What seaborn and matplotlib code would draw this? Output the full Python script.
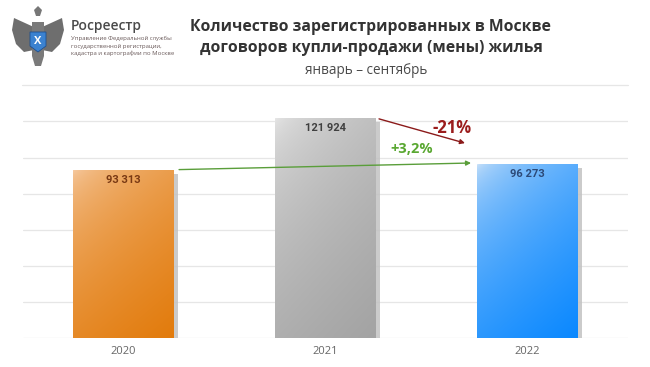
import numpy as np
import pandas as pd
import matplotlib
matplotlib.use("Agg")
import matplotlib.pyplot as plt
import matplotlib.colors as mcolors
from matplotlib.patches import Rectangle, Polygon
import seaborn as sns

# ---- data ----
years = ["2020", "2021", "2022"]
values = [93313, 121924, 96273]
value_labels = ["93 313", "121 924", "96 273"]
change_labels = ["+3,2%", "-21%"]
title_lines = ["Количество зарегистрированных в Москве",
               "договоров купли-продажи (мены) жилья"]
subtitle = "январь – сентябрь"
org_name = "Росреестр"
org_lines = ["Управление Федеральной службы",
             "государственной регистрации,",
             "кадастра и картографии по Москве"]

light_cols = ["#f8d2b0", "#ececec", "#d6e7f8"]
dark_cols = ["#e27b0c", "#a3a3a3", "#0a88ff"]
label_cols = ["#7a3a14", "#404040", "#2c4a78"]

sns.set_theme(style="white")
plt.rcParams['font.family'] = ['Open Sans', 'DejaVu Sans']

fig = plt.figure(figsize=(6.5, 3.67), dpi=100)
fig.patch.set_facecolor("white")
ax = fig.add_axes([22.7 / 650, 29 / 367, (628 - 22.7) / 650, (338 - 103.4) / 367])

df = pd.DataFrame({"year": years, "value": values})
sns.barplot(data=df, x="year", y="value", ax=ax, width=0.5,
            color="#ffffff", edgecolor="none", zorder=3)

ax.set_xlim(-0.5, 2.5)
ax.set_ylim(0, 130000)
ax.set_yticks(np.arange(0, 120001, 20000))
ax.yaxis.grid(True, color="#e6e6e6", linewidth=0.9, zorder=0)
ax.set_axisbelow(True)
for s in ax.spines.values():
    s.set_visible(False)
ax.set_yticklabels([])
ax.tick_params(axis="y", length=0)
ax.tick_params(axis="x", length=0, pad=6, labelsize=8, labelcolor="#666666")
ax.set_xlabel("")
ax.set_ylabel("")

# gradient fills + shadows
ny, nx = 200, 100
uu, vv = np.meshgrid(np.linspace(0, 1, nx), np.linspace(0, 1, ny))
for i, patch in enumerate(ax.patches):
    x0 = patch.get_x()
    w = patch.get_width()
    h = patch.get_height()
    sh = Rectangle((x0 + w, 0), 0.022, h - 2200, facecolor="#c2c2c2",
                   edgecolor="none", zorder=2, alpha=0.85)
    ax.add_patch(sh)
    t = np.clip((0.45 * uu + 0.9 * vv) / 1.35, 0, 1) ** 0.45
    c0 = np.array(mcolors.to_rgb(light_cols[i]))
    c1 = np.array(mcolors.to_rgb(dark_cols[i]))
    img = c0[None, None, :] + (c1 - c0)[None, None, :] * t[:, :, None]
    im = ax.imshow(img, extent=(x0, x0 + w, 0, h), origin="upper",
                   aspect="auto", zorder=4, interpolation="bilinear")
    im.set_clip_path(patch)
    ax.text(i, h - 5600, value_labels[i],
            ha="center", va="center", fontsize=8, fontweight="bold",
            color=label_cols[i], zorder=6, family=["Roboto", "DejaVu Sans"])

ax.set_xlim(-0.5, 2.5)
ax.set_ylim(0, 130000)

# arrows
ax.annotate("", xy=(1.722, values[2] + 700), xytext=(0.275, values[0]),
            arrowprops=dict(arrowstyle="-|>", color="#5a9e3a", lw=1.0,
                            mutation_scale=7, shrinkA=0, shrinkB=0), zorder=7)
ax.annotate("", xy=(1.692, 108000), xytext=(1.266, values[1] - 500),
            arrowprops=dict(arrowstyle="-|>", color="#8b1a1a", lw=1.0,
                            mutation_scale=7, shrinkA=0, shrinkB=0), zorder=7)
ax.text(1.43, 104700, change_labels[0], ha="center", va="center",
        fontsize=10.5, fontweight="bold", color="#5aa832", zorder=7)
ax.text(1.628, 116400, change_labels[1], ha="center", va="center",
        fontsize=12, fontweight="bold", color="#9b1c1c", zorder=7)

# header
fig.text(370 / 650, 1 - 27 / 367, title_lines[0], ha="center", va="center",
         fontsize=11.3, fontweight="bold", color="#333333")
fig.text(371 / 650, 1 - 48 / 367, title_lines[1], ha="center", va="center",
         fontsize=11.3, fontweight="bold", color="#333333")
fig.text(366 / 650, 1 - 70 / 367, subtitle, ha="center", va="center",
         fontsize=9.8, color="#4a4a4a")
fig.add_artist(plt.Line2D([22 / 650, 628 / 650], [1 - 85 / 367, 1 - 85 / 367],
                          color="#e6e6e6", lw=0.9))

fig.text(71 / 650, 1 - 26 / 367, org_name, ha="left", va="center",
         fontsize=10, fontweight="semibold", color="#4a4a4a")
for k, line in enumerate(org_lines):
    fig.text(71 / 650, 1 - (38.7 + 7.3 * k) / 367, line, ha="left", va="center",
             fontsize=4.35, color="#6a5a5a")

# simplified emblem
def fx(px):
    return px / 650

def fy(py):
    return 1 - py / 367

wing_l = [(36, 28), (14, 18), (12, 30), (16, 44), (24, 52), (34, 50)]
wing_r = [(76 - x, y) for x, y in wing_l]
for wing in (wing_l, wing_r):
    fig.add_artist(Polygon([(fx(x), fy(y)) for x, y in wing], closed=True,
                           facecolor="#6e6e6e", edgecolor="none",
                           transform=fig.transFigure))
body = [(32, 22), (44, 22), (44, 56), (41, 66), (35, 66), (32, 56)]
fig.add_artist(Polygon([(fx(x), fy(y)) for x, y in body], closed=True,
                       facecolor="#7a7a7a", edgecolor="none",
                       transform=fig.transFigure))
shield = [(30, 32), (46, 32), (46, 46), (38, 52), (30, 46)]
fig.add_artist(Polygon([(fx(x), fy(y)) for x, y in shield], closed=True,
                       facecolor="#3b82d0", edgecolor="#1e4f8f", lw=0.6,
                       transform=fig.transFigure))
fig.text(fx(38), fy(41), "X", ha="center", va="center", fontsize=8,
         color="white", fontweight="bold")
fig.add_artist(Polygon([(fx(x), fy(y)) for x, y in [(34, 10), (38, 6), (42, 10), (40, 16), (36, 16)]],
                       closed=True, facecolor="#777777", edgecolor="none",
                       transform=fig.transFigure))

fig.savefig("out.png", dpi=100, facecolor="white")
